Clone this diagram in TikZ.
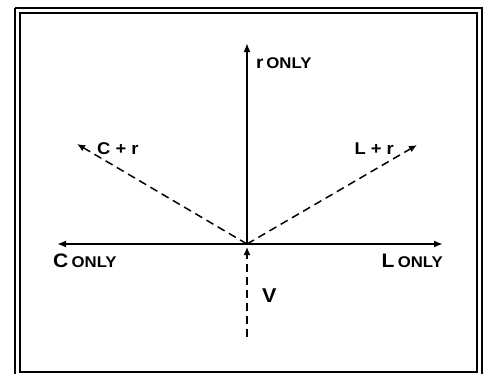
\documentclass[tikz,border=0pt]{standalone}
\usepackage{fontspec}
\setmainfont{Liberation Sans}[FakeStretch=1.08]
\usetikzlibrary{arrows.meta}
\begin{document}
\begin{tikzpicture}[x=1pt,y=-1pt,
  axis/.style={line width=2.1pt,-{Latex[length=9pt,width=7pt]}},
  dvec/.style={line width=1.5pt,dash pattern=on 8pt off 5pt,-{Latex[length=8pt,width=7pt]}},
  lab/.style={inner sep=0pt,font=\bfseries}]
\useasboundingbox (0,0) rectangle (487,373);
\fill[white] (0,0) rectangle (487,373);
% frame
\draw[line width=1.5pt] (15,8) -- (482,8) -- (482,380);
\draw[line width=1.5pt] (15,8) -- (15,380);
\draw[line width=2pt] (20,13) rectangle (477,372);
% coordinates
\coordinate (O) at (247,244);
\coordinate (T) at (247,43);
\coordinate (Lf) at (57,244);
\coordinate (Rt) at (443,244);
\coordinate (B) at (247,337);
\coordinate (Vt) at (247,247);
\coordinate (CR) at (77,144);
\coordinate (LR) at (417,145);
% vectors
\draw[axis] (O) -- (T);
\draw[axis] (O) -- (Lf);
\draw[axis] (O) -- (Rt);
\draw[dvec] (O) -- (CR);
\draw[dvec] (O) -- (LR);
\draw[dvec] (B) -- (Vt);
% labels
\node[lab,anchor=west] (rl) at (256,63) {\fontsize{17.5}{19}\selectfont r\,\fontsize{15.5}{17}\selectfont ONLY};
\node[lab,anchor=west] (crl) at (97,149) {\fontsize{17}{18}\selectfont C + r};
\node[lab,anchor=east] (lrl) at (394,149) {\fontsize{17}{18}\selectfont L + r};
\node[lab,anchor=west] (cl) at (53,261) {\fontsize{19.5}{21}\selectfont C\,\fontsize{15.5}{17}\selectfont ONLY};
\node[lab,anchor=east] (ll) at (443,261) {\fontsize{19.5}{21}\selectfont L\,\fontsize{15.5}{17}\selectfont ONLY};
\node[lab,anchor=west] (vl) at (262,296) {\fontsize{20}{22}\selectfont V};
\end{tikzpicture}
\end{document}
